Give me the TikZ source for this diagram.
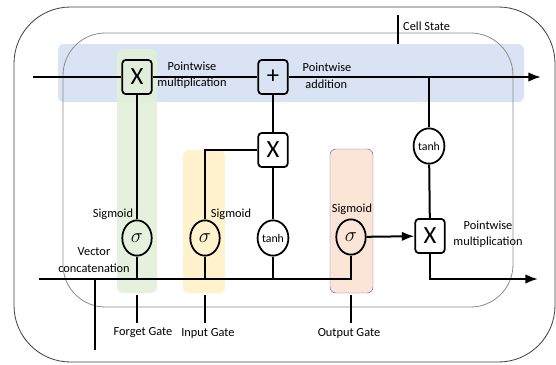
\documentclass[tikz,border=0pt]{standalone}
\usepackage{fontspec}
\setmainfont{Carlito}
\usetikzlibrary{arrows.meta,shapes.geometric}
\tikzset{>=Latex}
\definecolor{bandblue}{RGB}{214,224,242}
\definecolor{bandgreen}{RGB}{226,240,217}
\definecolor{bandyellow}{RGB}{255,242,204}
\definecolor{bandorange}{RGB}{251,229,214}
\tikzset{
  opbox/.style={draw,line width=1.5pt,rounded corners=3pt,minimum width=25pt,minimum height=29pt,inner sep=0pt,font=\fontsize{21}{21}\selectfont},
  actnode/.style={draw,ellipse,line width=1.5pt,minimum width=25pt,minimum height=30pt,inner sep=0pt},
  lbl/.style={font=\fontsize{10.5}{14}\selectfont,align=center,inner sep=0pt},
  wire/.style={line width=1.7pt}
}

\begin{document}
\begin{tikzpicture}[x=0.85pt,y=-0.85pt]
\useasboundingbox (0,0) rectangle (556,364);
% colour bands
\fill[bandblue,rounded corners=5pt,opacity=0.9] (58,44) rectangle (524,102);
\fill[bandgreen,rounded corners=5pt,opacity=0.9] (117,49) rectangle (157,293);
\fill[bandyellow,rounded corners=5pt] (183,150) rectangle (225,293);
\filldraw[fill=bandorange,draw=blue!60!black!60,thin,rounded corners=5pt] (330,149) rectangle (373,293);
% cell frames
\draw[black!75,line width=0.7pt] (14,7) [rounded corners=48] rectangle (555,362);
\draw[black!45,line width=0.7pt] (63,33) [rounded corners=36] rectangle (513,307);

% operations
\node[opbox] (fx) at (137,77) {X};
\node[opbox] (plus) at (273,77) {+};
\node[opbox] (ix) at (273,150) {X};
\node[opbox] (ox) at (430,236) {X};
\node[actnode] (fs) at (137,238) {\LARGE$\sigma$};
\node[actnode] (is) at (205,238) {\LARGE$\sigma$};
\node[actnode,font=\fontsize{10}{10}\selectfont] (tc) at (273,238) {tanh};
\node[actnode] (os) at (351,237) {\LARGE$\sigma$};
\node[actnode,font=\fontsize{10}{10}\selectfont,minimum width=26pt] (th) at (429,146) {tanh};

\coordinate (cin) at (33,77);
\coordinate (cout) at (541,77);
\coordinate (hin) at (39,279);
\coordinate (hout) at (538,279);
\coordinate (xin) at (95,350);
\coordinate (tick) at (398,15);
\coordinate (fg) at (137,323);
\coordinate (ig) at (205,323);
\coordinate (og) at (351,323);

% cell state
\draw[wire] (cin) -- (fx);
\draw[wire] (fx) -- (plus);
\draw[wire,->] (plus) -- (cout);
\draw[wire] (tick) -- (tick |- 0,44);
\draw[wire] (th.north |- cout) -- (th);
\draw[wire] (th) -- (ox);
\draw[wire,->] (os) -- (ox);
\draw[wire,->] (ox.south) |- (hout);
% gates
\draw[wire] (hin) -| (os.south);
\draw[wire] (xin) -- (xin |- hin);
\draw[wire] (fs) -- (fx);
\draw[wire] (fs) -- (fs |- hin);
\draw[wire] (is) -- (is |- hin);
\draw[wire] (tc) -- (tc |- hin);
\draw[wire] (tc) -- (ix);
\draw[wire] (ix) -- (plus);
\draw[wire] (ix.west) -| (is.north);
\draw[wire] (fg) -- (fg |- 0,295);
\draw[wire] (ig) -- (ig |- 0,295);
\draw[wire] (og) -- (og |- 0,295);

% labels
\node[lbl,anchor=west] (cs) at (403,26) {Cell State};
\node[lbl] (pm1) at (192,75) {Pointwise\\multiplication};
\node[lbl,align=left] (pa) at (327,76) {Pointwise\\\ addition};
\node[lbl] (pm2) at (488,234) {Pointwise\\multiplication};
\node[lbl] (sg1) at (113,214) {Sigmoid};
\node[lbl] (sg2) at (231,214) {Sigmoid};
\node[lbl] (sg3) at (352,209) {Sigmoid};
\node[lbl] (vc) at (94,260) {Vector\\concatenation};
\node[lbl] (fgl) at (143,333) {Forget Gate};
\node[lbl] (igl) at (208,333) {Input Gate};
\node[lbl] (ogl) at (349,333) {Output Gate};
\end{tikzpicture}
\end{document}
